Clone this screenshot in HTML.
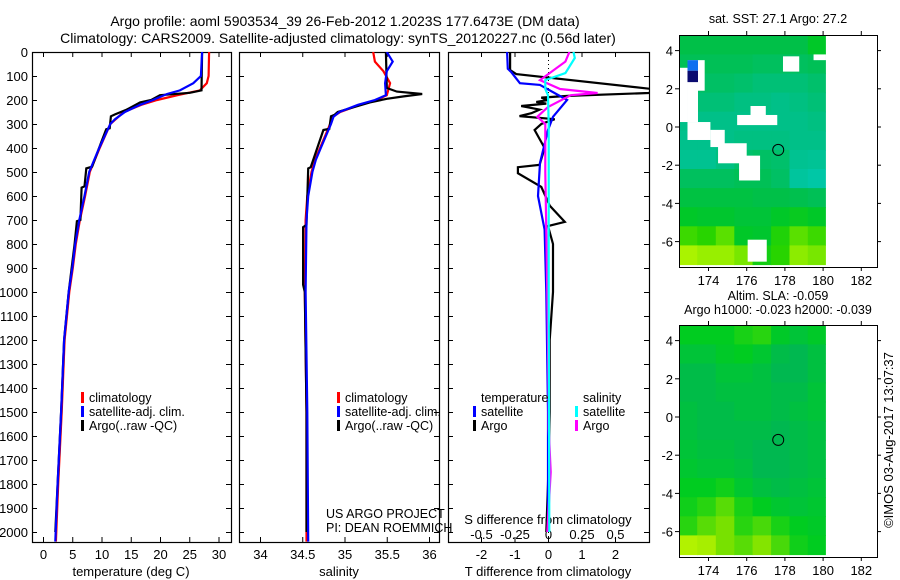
<!DOCTYPE html>
<html><head><meta charset="utf-8"><style>
body{margin:0;background:#fff;}
svg{display:block;font-family:"Liberation Sans",sans-serif;font-size:13px;}
.lg{font-size:12.5px;}
.tt{font-size:14px;}
</style></head><body>
<svg id="c" width="900" height="580" viewBox="0 0 900 580"></svg>
<script>
// ---- profile data (depth in dbar) ----
const tClimDepth=[0,100,130,160,180,200,220,250,300,400,500,600,700,800,900,1000,1200,1500,1800,2040];
const tClimVal=[28.4,28.3,28,26.8,23,19.5,16.8,13.8,11.5,9.7,8.0,7.2,6.3,5.6,5.1,4.5,3.7,3.2,2.6,2.2];
const tSatDepth=[0,100,130,160,175,200,220,250,280,300,400,500,600,700,800,900,1000,1200,1500,1800,2040];
const tSatVal=[27.2,27,25.7,23.4,21.2,18.8,16.6,14,12.3,11.5,9.6,7.9,7.1,6.2,5.5,5,4.4,3.6,3.1,2.5,2.1];
const tArgoDepth=[0,160,170,180,200,210,240,260,268,318,322,380,478,485,560,565,700,705,800,1000,1200,1500,1800,2000];
const tArgoVal=[27.2,27.1,25.1,20,18.5,16.6,14.3,12.3,11.6,11.4,10.8,9.9,8.4,7.4,7.1,6.6,6.4,5.8,5.4,4.4,3.6,3.1,2.5,2.1];
const sClimDepth=[0,40,80,130,180,200,220,250,270,300,350,400,450,500,600,700,1000,1500,2040];
const sClimVal=[35.34,35.36,35.46,35.54,35.5,35.38,35.18,34.95,34.86,34.83,34.77,34.71,34.65,34.61,34.56,34.54,34.53,34.55,34.55];
const sSatDepth=[0,40,80,130,180,200,220,250,270,300,350,400,450,500,600,700,1000,1500,2040];
const sSatVal=[35.5,35.57,35.5,35.48,35.49,35.36,35.16,34.94,34.87,34.84,34.78,34.72,34.66,34.62,34.57,34.55,34.54,34.56,34.57];
const sArgoDepth=[0,150,165,175,185,195,210,250,262,268,320,325,480,485,720,730,970,1000,1500,2000];
const sArgoVal=[35.49,35.5,35.62,35.92,35.7,35.5,35.3,34.92,34.88,34.84,34.82,34.75,34.6,34.57,34.55,34.51,34.51,34.53,34.55,34.55];
// differences
const dTSatDepth=[0,70,83,130,137,200,270,325,462,600,740,1000,1500,2000];
const dTSatVal=[-1.22,-1.2,-1.1,-0.84,-0.24,0.57,0.15,0,-0.24,-0.3,-0.1,-0.05,0,0];
const dTArgoDepth=[0,75,92,154,162,171,183,190,200,208,215,225,240,255,267,280,300,325,400,470,480,505,562,640,708,725,800,1000,1200,1500,1800,2000];
const dTArgoVal=[-1.13,-1.13,-0.95,3.1,3.4,3.0,0.6,-0.2,0,-0.35,-0.05,-0.8,-0.25,-0.5,-0.85,0.2,-0.2,-0.4,-0.1,-0.25,-0.9,-0.9,-0.2,0.05,0.5,0,0.15,0.15,0.05,0.05,0,-0.05];
const dSArgoDepth=[0,40,117,154,171,180,229,270,300,500,1000,1450,1570,1750,2000];
const dSArgoVal=[0.16,0.13,-0.06,0.09,0.37,0.17,0,-0.08,-0.02,-0.02,-0.005,0.005,0.005,0.02,-0.005];
const dSSatDepth=[0,25,88,117,154,180,300,1000,2000];
const dSSatVal=[0.19,0.2,0.13,-0.02,-0.02,0,0.005,0.005,0.01];
const depthTicks=[0,100,200,300,400,500,600,700,800,900,1000,1100,1200,1300,1400,1500,1600,1700,1800,1900,2000];
const tempTicks=[0,5,10,15,20,25,30];
const salTicks=[34,34.5,35,35.5,36];
const salTickLabels=["34","34.5","35","35.5","36"];
const dTTicks=[-2,-1,0,1,2];
const dSTicks=[-0.5,-0.25,0,0.25,0.5];
const dSTickLabels=["-0.5","-0.25","0","0.25","0.5"];
// ---- map data: 8 lon columns x 12 lat rows (1deg rows from 4.8N) ----
const mapLonStart=[172.45,173.41,174.38,175.35,176.31,177.28,178.24,179.2];
const mapLatTop=[4.8,3.8,2.8,1.8,0.8,-0.2,-1.2,-2.2,-3.2,-4.2,-5.2,-6.2];
const sstGrid=[
[27.2,27.2,27.2,27.2,27.2,27.2,27.2,27.3],
[27.15,27.15,27.15,27.15,27.12,27.12,27.12,27.15],
[27.1,27.1,27.1,27.08,27.05,27.05,27.05,27.08],
[27.05,27.05,27.05,27.02,27.02,27.0,27.02,27.05],
[27.0,27.0,27.0,27.0,27.0,27.0,27.0,27.02],
[26.98,26.98,27.0,27.02,27.02,27.02,27.0,27.0],
[26.96,26.96,27.02,27.08,27.1,27.08,26.96,26.94],
[27.12,27.12,27.12,27.15,27.15,27.1,26.9,26.86],
[27.22,27.22,27.22,27.22,27.2,27.2,27.18,27.15],
[27.3,27.28,27.28,27.25,27.25,27.3,27.32,27.3],
[27.42,27.4,27.45,27.3,27.28,27.38,27.45,27.42],
[27.55,27.52,27.52,27.48,27.35,27.4,27.5,27.48]];
const slaGrid=[
[0.0,0.0,0.0,0.03,0.05,-0.01,-0.03,-0.01],
[-0.03,-0.03,-0.01,0.0,-0.02,-0.05,-0.06,-0.04],
[-0.05,-0.05,-0.03,-0.03,-0.04,-0.06,-0.06,-0.04],
[-0.05,-0.05,-0.04,-0.04,-0.04,-0.05,-0.05,-0.03],
[-0.04,-0.05,-0.05,-0.04,-0.04,-0.05,-0.04,-0.03],
[-0.04,-0.05,-0.05,-0.05,-0.05,-0.06,-0.05,-0.04],
[-0.03,-0.04,-0.04,-0.05,-0.06,-0.06,-0.05,-0.04],
[-0.02,-0.03,-0.03,-0.04,-0.06,-0.06,-0.05,-0.04],
[0.0,0.0,0.02,-0.02,-0.04,-0.05,-0.04,-0.03],
[0.02,0.05,0.08,0.03,0.0,-0.02,-0.03,-0.02],
[0.05,0.08,0.1,0.05,0.07,0.03,0.0,-0.01],
[0.15,0.14,0.1,0.08,0.11,0.07,0.02,0.0]];
const maskRects=[[172.45,3.1,172.9,0.26],[172.9,3.5,173.8,1.9],[172.9,2.35,173.45,0.26],[172.9,0.26,174.1,-0.68],[174.1,-0.15,174.85,-1.05],[174.5,-0.85,176.0,-1.9],[175.6,-1.5,176.7,-2.8],[175.5,0.63,177.6,0.1],[176.2,1.1,177.0,0.6],[177.9,3.7,178.75,2.9],[179.5,3.8,180.15,3.5],[176.05,-5.9,177.05,-7.05]];
const mapLonTicks=[174,176,178,180,182];
const mapLatTicks=[4,2,0,-2,-4,-6];
const mapLatLabels=["4","2","0","-2","-4","-6"];
const floatLon=[177.65];
const floatLat=[-1.2];

const NS="http://www.w3.org/2000/svg";
const svg=document.getElementById('c');
function mk(tag,attrs,parent){const e=document.createElementNS(NS,tag);for(const k in attrs)e.setAttribute(k,attrs[k]);(parent||svg).appendChild(e);return e;}
function txt(x,y,s,anchor,parent,cls){const t=mk('text',{x:x,y:y,'text-anchor':anchor||'middle',fill:'#000'},parent);if(cls)t.setAttribute('class',cls);t.textContent=s;return t;}

const Y0=52,Y1=542;
const yD=d=>Y0+d*0.24;
const xT=v=>43+v*5.85;
const xS=v=>260+(v-34)*84.5;
const xDT=v=>548+v*33.5;
const xDS=v=>548+v*134;
const panels=[[32,231],[239,439],[448,649]];

let t=txt(345,26,"Argo profile: aoml 5903534_39 26-Feb-2012 1.2023S 177.6473E (DM data)",'middle',null,'tt');


t=txt(338,43,"Climatology: CARS2009. Satellite-adjusted climatology: synTS_20120227.nc (0.56d later)",'middle',null,'tt');



const clip=mk('defs',{});
panels.forEach((p,i)=>{
  const cp=mk('clipPath',{id:'cp'+i},clip);
  mk('rect',{x:p[0],y:Y0,width:p[1]-p[0],height:Y1-Y0},cp);
});

panels.forEach((p,i)=>{
  const g=mk('g',{});
  
  
  const fr=mk('rect',{x:p[0]+0.5,y:Y0+0.5,width:p[1]-p[0],height:Y1-Y0,fill:'none',stroke:'#000','stroke-width':1.2},g);
  
  
  depthTicks.forEach(d=>{
    const y=yD(d)+0.5;
    mk('line',{x1:p[0],y1:y,x2:p[0]+5,y2:y,stroke:'#000'},g);
    mk('line',{x1:p[1]-5,y1:y,x2:p[1],y2:y,stroke:'#000'},g);
  });
});
depthTicks.forEach(d=>{
  const l=txt(28,yD(d)+5,String(d),'end');
  
  
});
function xticks(ticks,labels,fx,p,labY,top,bottom){
  ticks.forEach((v,i)=>{
    const x=fx(v)+0.5;
    if(bottom)mk('line',{x1:x,y1:Y1-5,x2:x,y2:Y1,stroke:'#000'});
    if(top)mk('line',{x1:x,y1:Y0,x2:x,y2:Y0+5,stroke:'#000'});
    if(labY){const l=txt(x,labY,labels?labels[i]:String(v));
      
      }
  });
}
xticks(tempTicks,null,xT,panels[0],559,true,true);
xticks(salTicks,salTickLabels,xS,panels[1],559,true,true);
xticks(dTTicks,null,xDT,panels[2],559,false,true);
xticks(dSTicks,dSTickLabels,xDS,panels[2],539,true,false);
t=txt(131,576,"temperature (deg C)");
t=txt(339,576,"salinity");
t=txt(548,576,"T difference from climatology");
t=txt(548,524,"S difference from climatology");
const zl=mk('line',{x1:548.5,y1:Y0,x2:548.5,y2:Y1,stroke:'#000','stroke-dasharray':'1,3'});



function series(depths,vals,fx,color,panel,name){
  const pts=depths.map((d,i)=>fx(vals[i]).toFixed(1)+','+yD(d).toFixed(1)).join(' ');
  const pl=mk('polyline',{points:pts,fill:'none',stroke:color,'stroke-width':2.2,'clip-path':'url(#cp'+panel+')'});
  
  
}
series(tClimDepth,tClimVal,xT,'#f00',0,'temp-climatology-line');
series(tArgoDepth,tArgoVal,xT,'#000',0,'temp-argo-line');
series(tSatDepth,tSatVal,xT,'#00f',0,'temp-satellite-line');
series(sClimDepth,sClimVal,xS,'#f00',1,'sal-climatology-line');
series(sArgoDepth,sArgoVal,xS,'#000',1,'sal-argo-line');
series(sSatDepth,sSatVal,xS,'#00f',1,'sal-satellite-line');
series(dTArgoDepth,dTArgoVal,xDT,'#000',2,'tdiff-argo-line');
series(dTSatDepth,dTSatVal,xDT,'#00f',2,'tdiff-satellite-line');
series(dSArgoDepth,dSArgoVal,xDS,'#f0f',2,'sdiff-argo-line');
series(dSSatDepth,dSSatVal,xDS,'#0ff',2,'sdiff-satellite-line');

function legend(x,y,items,name){
  const g=mk('g',{});
  
  
  items.forEach((it,i)=>{
    if(it[1])mk('rect',{x:x,y:y+i*14-9,width:3,height:11,fill:it[1]},g);
    txt(x+8,y+i*14+1,it[0],'start',g,'lg');
  });
}
legend(81,401,[["climatology","#f00"],["satellite-adj. clim.","#00f"],["Argo(..raw -QC)","#000"]],'temperature-legend');
legend(337,401,[["climatology","#f00"],["satellite-adj. clim.","#00f"],["Argo(..raw -QC)","#000"]],'salinity-legend');
legend(473,401,[["temperature",null],["satellite","#00f"],["Argo","#000"]],'tdiff-legend');
legend(575,401,[["salinity",null],["satellite","#0ff"],["Argo","#f0f"]],'sdiff-legend');
t=txt(326,518,"US ARGO PROJECT",'start',null,'lg');
t=txt(326,532,"PI: DEAN ROEMMICH",'start',null,'lg');

// ---- maps ----
function interp(stops,v){
  if(v<=stops[0][0])return 'rgb('+stops[0][1].join(',')+')';
  for(let i=1;i<stops.length;i++){if(v<=stops[i][0]){const a=stops[i-1],b=stops[i];const f=(v-a[0])/(b[0]-a[0]);
    return 'rgb('+a[1].map((c,k)=>Math.round(c+(b[1][k]-c)*f)).join(',')+')';}}
  return 'rgb('+stops[stops.length-1][1].join(',')+')';
}
const sstStops=[[26.85,[0,200,168]],[27.0,[0,192,136]],[27.1,[0,192,100]],[27.2,[0,192,72]],[27.3,[0,200,40]],[27.4,[40,212,0]],[27.5,[140,236,0]],[27.6,[200,250,0]]];
const slaStops=[[-0.06,[0,184,80]],[-0.03,[0,196,56]],[0,[0,204,32]],[0.05,[40,212,16]],[0.1,[120,225,0]],[0.16,[190,245,0]]];
function drawMap(top,grid,stops,mask,name,titleLines){
  const L=679,R=877,B=top+232;
  const xl=v=>708.5+(v-174)*19.1;
  const yl=v=>top+92+(0-v)*19.1;
  const g=mk('g',{});
  
  
  const cpid='mc'+top;
  const cp=mk('clipPath',{id:cpid},clip);
  mk('rect',{x:L,y:top,width:R-L,height:B-top},cp);
  const cg=mk('g',{'clip-path':'url(#'+cpid+')'},g);
  grid.forEach((row,r)=>row.forEach((v,c)=>{
    const x0=xl(mapLonStart[c]),x1=c<7?xl(mapLonStart[c+1]):xl(180.15);
    const y0=yl(mapLatTop[r]),y1=yl(mapLatTop[r]-1);
    const cell=mk('rect',{x:x0.toFixed(1),y:y0.toFixed(1),width:(x1-x0+(c<7?0.6:0)).toFixed(1),height:(y1-y0+0.6).toFixed(1),fill:interp(stops,v)},cg);
    
    
  }));
  if(mask){mask.forEach(m=>{
    const mr=mk('rect',{x:xl(m[0]),y:yl(m[1]),width:xl(m[2])-xl(m[0]),height:yl(m[3])-yl(m[1]),fill:'#fff'},cg);
    
    
  });
  const bl=mk('rect',{x:xl(172.9),y:yl(2.95),width:xl(173.45)-xl(172.9),height:yl(2.35)-yl(2.95),fill:'#0a0a70'},cg);
  
  const bl2=mk('rect',{x:xl(172.9),y:yl(3.5),width:xl(173.45)-xl(172.9),height:yl(2.95)-yl(3.5),fill:'#1070f0'},cg);
  
  }
  const fr=mk('rect',{x:L+0.5,y:top+0.5,width:R-L,height:B-top,fill:'none',stroke:'#000'},g);
  
  
  mapLonTicks.forEach(v=>{const x=xl(v);mk('line',{x1:x,y1:top,x2:x,y2:top-4,stroke:'#000'},g);mk('line',{x1:x,y1:B,x2:x,y2:B+4,stroke:'#000'},g);
    const l=txt(x,B+18,String(v),'middle',g);});
  mapLatTicks.forEach((v,i)=>{const y=yl(v);mk('line',{x1:L-4,y1:y,x2:L,y2:y,stroke:'#000'},g);mk('line',{x1:R,y1:y,x2:R+4,y2:y,stroke:'#000'},g);
    const l=txt(L-6,y+5,mapLatLabels[i],'end',g);});
  floatLon.forEach((lo,i)=>{const c=mk('circle',{cx:xl(lo),cy:yl(floatLat[i]),r:5.5,fill:'none',stroke:'#000'},g);
    });
  titleLines.forEach((s,i)=>{const l=txt(778,titleLines.length==1?top-12:top-25+i*14,s,'middle',g,'lg');
    });
}
drawMap(35,sstGrid,sstStops,maskRects,'sst-map',["sat. SST: 27.1 Argo: 27.2"]);
drawMap(325,slaGrid,slaStops,null,'sla-map',["Altim. SLA: -0.059","Argo h1000: -0.023 h2000: -0.039"]);
t=txt(0,0,"©IMOS 03-Aug-2017 13:07:37");
t.setAttribute('transform','translate(893,440) rotate(-90)');


</script>
</body></html>
